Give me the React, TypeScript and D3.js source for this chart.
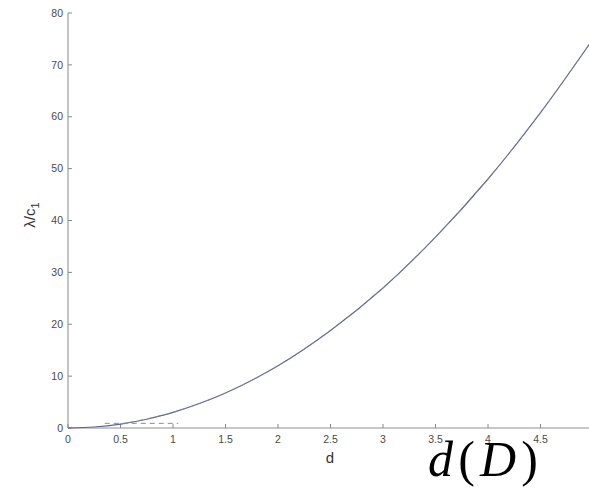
import React from "react";
import * as d3 from "d3";

// Eigenvalue ratio λ/c1 sampled along d
const dValues = [0, 0.25, 0.5, 0.75, 1, 1.5, 2, 2.5, 3, 3.5, 4, 4.5, 5];
const lambdaValues = [0, 0.19, 0.75, 1.69, 3, 6.75, 12, 18.8, 27, 36.8, 48, 60.8, 75];

// Approximation traced with a dashed line
const approxD = [0.5, 1, 1.5, 2, 2.5, 3, 3.5, 4, 4.5, 5];
const approxValues = [0.75, 3, 6.75, 12, 18.8, 27, 36.8, 48, 60.8, 75];

// Small-d dashed segment
const lowD = [0.35, 1.05];
const lowValues = [0.9, 0.9];

const xTicks = [0, 0.5, 1, 1.5, 2, 2.5, 3, 3.5, 4, 4.5];
const yTicks = [0, 10, 20, 30, 40, 50, 60, 70, 80];

const W = 589;
const H = 493;

export default function App() {
  const x = d3.scaleLinear().domain([0, 5]).range([68, 593]);
  const y = d3.scaleLinear().domain([0, 80]).range([428, 13]);

  const line = d3
    .line<[number, number]>()
    .x((p) => x(p[0]))
    .y((p) => y(p[1]))
    .curve(d3.curveCatmullRom);

  const main = line(dValues.map((d, i) => [d, lambdaValues[i]]));
  const approx = line(approxD.map((d, i) => [d, approxValues[i]]));
  const low = d3
    .line<[number, number]>()
    .x((p) => x(p[0]))
    .y((p) => y(p[1]))(lowD.map((d, i) => [d, lowValues[i]]));

  const axisColor = "#b4b4b4";
  const tickText = "#4a4a4a";
  const font = "Liberation Sans, Arial, sans-serif";

  return (
    <svg
      width={W}
      height={H}
      style={{ position: "fixed", left: 0, top: 0, background: "#fff" }}
    >
      <defs>
        <clipPath id="plot">
          <rect x={68} y={0} width={W - 68} height={430} />
        </clipPath>
      </defs>

      {/* axes */}
      <line x1={68} x2={68} y1={13} y2={428} stroke={axisColor} strokeWidth={1.6} />
      <line x1={68} x2={W} y1={428} y2={428} stroke={axisColor} strokeWidth={1.6} />

      {yTicks.map((t) => (
        <g key={"y" + t}>
          <line x1={68} x2={72} y1={y(t)} y2={y(t)} stroke="#888" strokeWidth={1} />
          <text
            x={63}
            y={y(t)}
            dy="0.35em"
            textAnchor="end"
            fontFamily={font}
            fontSize={10.5}
            fill={tickText}
          >
            {t}
          </text>
        </g>
      ))}

      {xTicks.map((t) => (
        <g key={"x" + t}>
          <line x1={x(t)} x2={x(t)} y1={428} y2={424} stroke="#888" strokeWidth={1} />
          <text
            x={x(t)}
            y={443}
            textAnchor="middle"
            fontFamily={font}
            fontSize={10.5}
            fill={tickText}
          >
            {t}
          </text>
        </g>
      ))}

      {/* curves */}
      <g clipPath="url(#plot)">
        <path d={main ?? ""} fill="none" stroke="#5f6399" strokeWidth={1.2} />
        <path
          d={approx ?? ""}
          fill="none"
          stroke="#8a8a8a"
          strokeWidth={1}
          strokeDasharray="5 4"
          opacity={0.7}
        />
        <path
          d={low ?? ""}
          fill="none"
          stroke="#8c8c8c"
          strokeWidth={1}
          strokeDasharray="5 4"
        />
      </g>

      {/* axis titles */}
      <text
        transform="translate(35,215) rotate(-90)"
        textAnchor="middle"
        fontFamily={font}
        fontSize={15}
        fill="#333"
      >
        λ/c
        <tspan fontSize={11} dy={4}>1</tspan>
      </text>
      <text
        x={330}
        y={463}
        textAnchor="middle"
        fontFamily={font}
        fontSize={15}
        fill="#333"
      >
        d
      </text>

      <text
        x={428}
        y={476}
        fontFamily="Liberation Serif, Times New Roman, serif"
        fontSize={50}
        fill="#000"
        textLength={110}
        lengthAdjust="spacing"
      >
        <tspan fontStyle="italic">d</tspan>
        <tspan>(</tspan>
        <tspan fontStyle="italic">D</tspan>
        <tspan>)</tspan>
      </text>
    </svg>
  );
}
